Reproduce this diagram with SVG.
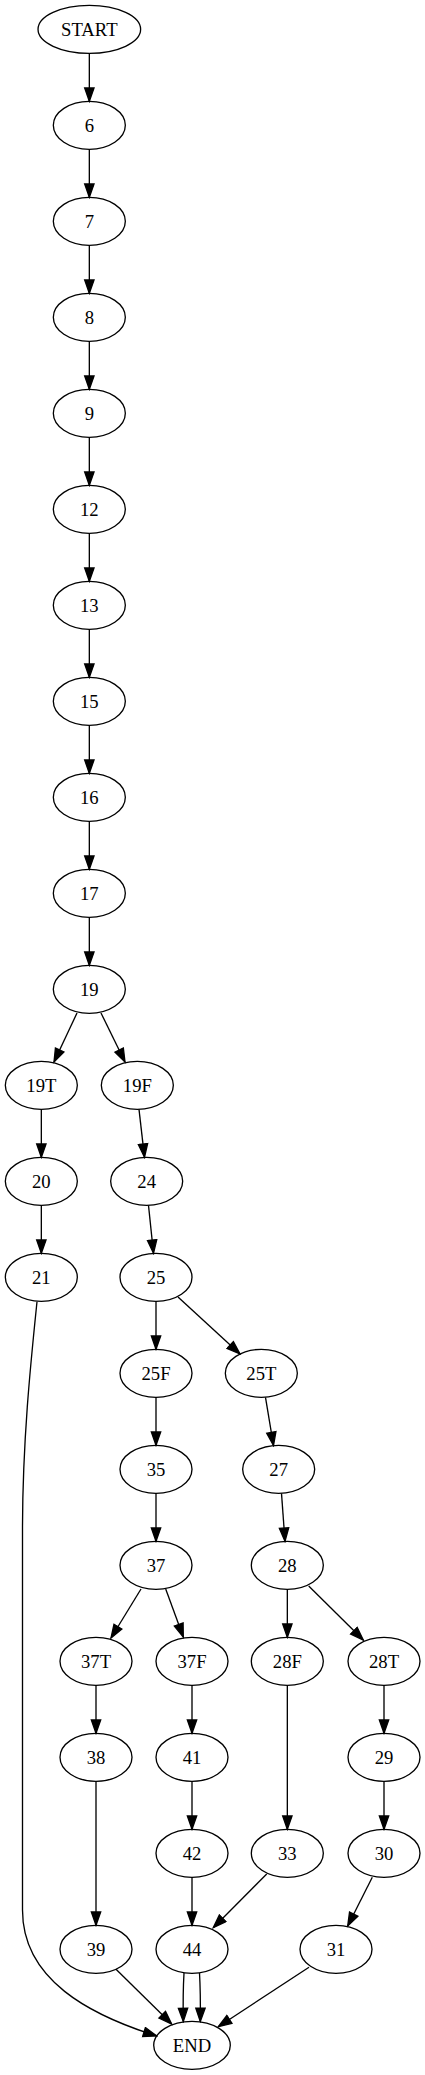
<svg xmlns="http://www.w3.org/2000/svg" width="425" height="2075" viewBox="0 0 425 2075">
<style>
.n ellipse{fill:none;stroke:#000;stroke-width:1.33}
.n text{font-family:"Liberation Serif","Times New Roman",serif;font-size:18.67px;text-anchor:middle;fill:#000}
#edges path{fill:none;stroke:#000;stroke-width:1.33;marker-end:url(#ah)}
</style>
<defs>
<marker id="ah" markerUnits="userSpaceOnUse" viewBox="-1 -1 16 12" markerWidth="16" markerHeight="12" refX="13.3" refY="4.67" orient="auto">
<path d="M0,0 L13.3,4.67 L0,9.33 Z" fill="#000" stroke="#000" stroke-width="1.33"/>
</marker>
</defs>
<rect width="425" height="2075" fill="#fff"/>
<g id="edges">
<path d="M89.33,53.33 V101.33"/>
<path d="M89.33,149.33 V197.33"/>
<path d="M89.33,245.33 V293.33"/>
<path d="M89.33,341.33 V389.33"/>
<path d="M89.33,437.33 V485.33"/>
<path d="M89.33,533.33 V581.33"/>
<path d="M89.33,629.33 V677.33"/>
<path d="M89.33,725.33 V773.33"/>
<path d="M89.33,821.33 V869.33"/>
<path d="M89.33,917.33 V965.33"/>
<path d="M77,1013 L54,1062"/>
<path d="M101,1013 L125,1062"/>
<path d="M41.33,1109.33 V1157.33"/>
<path d="M41.33,1205.33 V1253.33"/>
<path d="M139,1109.33 L144.5,1157.33"/>
<path d="M148.5,1205.33 L153.5,1253.33"/>
<path d="M156,1301.33 V1349.33"/>
<path d="M178,1297 L240,1354"/>
<path d="M156,1397.33 V1445.33"/>
<path d="M156,1493.33 V1541.33"/>
<path d="M265.5,1397.33 L273.5,1445.5"/>
<path d="M281.5,1493.33 L285,1541.33"/>
<path d="M287.33,1589.33 V1637.33"/>
<path d="M308.7,1586 L363.3,1640"/>
<path d="M141,1589 L111,1638"/>
<path d="M165.7,1589 L183.3,1637"/>
<path d="M96,1685.33 V1733.33"/>
<path d="M192,1685.33 V1733.33"/>
<path d="M287.33,1685.33 V1829.33"/>
<path d="M384,1685.33 V1733.33"/>
<path d="M96,1781.33 V1925.33"/>
<path d="M192,1781.33 V1829.33"/>
<path d="M384,1781.33 V1829.33"/>
<path d="M192,1877.33 V1925.33"/>
<path d="M266.7,1874 L213.3,1927.7"/>
<path d="M372.3,1877.3 L347.7,1926"/>
<path d="M116,1969.3 L171.7,2024"/>
<path d="M184,1973 C183,1990 183,2005 183.3,2021.5"/>
<path d="M199.5,1973 C200.5,1990 200.5,2005 200.3,2021.5"/>
<path d="M309,1967.3 L218.3,2026.7"/>
<path d="M37,1301.7 C31,1360 22.5,1440 22.5,1530 L22.5,1910 C22.5,1980 90,2015 156.7,2036"/>
</g>
<g id="n_START" class="n"><ellipse cx="89.33" cy="29.33" rx="51.3" ry="24"/><text x="89.33" y="35.7">START</text></g>
<g id="n_6" class="n"><ellipse cx="89.33" cy="125.33" rx="36" ry="24"/><text x="89.33" y="131.7">6</text></g>
<g id="n_7" class="n"><ellipse cx="89.33" cy="221.33" rx="36" ry="24"/><text x="89.33" y="227.7">7</text></g>
<g id="n_8" class="n"><ellipse cx="89.33" cy="317.33" rx="36" ry="24"/><text x="89.33" y="323.7">8</text></g>
<g id="n_9" class="n"><ellipse cx="89.33" cy="413.33" rx="36" ry="24"/><text x="89.33" y="419.7">9</text></g>
<g id="n_12" class="n"><ellipse cx="89.33" cy="509.33" rx="36" ry="24"/><text x="89.33" y="515.7">12</text></g>
<g id="n_13" class="n"><ellipse cx="89.33" cy="605.33" rx="36" ry="24"/><text x="89.33" y="611.7">13</text></g>
<g id="n_15" class="n"><ellipse cx="89.33" cy="701.33" rx="36" ry="24"/><text x="89.33" y="707.7">15</text></g>
<g id="n_16" class="n"><ellipse cx="89.33" cy="797.33" rx="36" ry="24"/><text x="89.33" y="803.7">16</text></g>
<g id="n_17" class="n"><ellipse cx="89.33" cy="893.33" rx="36" ry="24"/><text x="89.33" y="899.7">17</text></g>
<g id="n_19" class="n"><ellipse cx="89.33" cy="989.33" rx="36" ry="24"/><text x="89.33" y="995.7">19</text></g>
<g id="n_19T" class="n"><ellipse cx="41.33" cy="1085.33" rx="36" ry="24"/><text x="41.33" y="1091.7">19T</text></g>
<g id="n_19F" class="n"><ellipse cx="137.33" cy="1085.33" rx="36" ry="24"/><text x="137.33" y="1091.7">19F</text></g>
<g id="n_20" class="n"><ellipse cx="41.33" cy="1181.33" rx="36" ry="24"/><text x="41.33" y="1187.7">20</text></g>
<g id="n_24" class="n"><ellipse cx="146.67" cy="1181.33" rx="36" ry="24"/><text x="146.67" y="1187.7">24</text></g>
<g id="n_21" class="n"><ellipse cx="41.33" cy="1277.33" rx="36" ry="24"/><text x="41.33" y="1283.7">21</text></g>
<g id="n_25" class="n"><ellipse cx="156" cy="1277.33" rx="36" ry="24"/><text x="156" y="1283.7">25</text></g>
<g id="n_25F" class="n"><ellipse cx="156" cy="1373.33" rx="36" ry="24"/><text x="156" y="1379.7">25F</text></g>
<g id="n_25T" class="n"><ellipse cx="261.33" cy="1373.33" rx="36" ry="24"/><text x="261.33" y="1379.7">25T</text></g>
<g id="n_35" class="n"><ellipse cx="156" cy="1469.33" rx="36" ry="24"/><text x="156" y="1475.7">35</text></g>
<g id="n_27" class="n"><ellipse cx="278.67" cy="1469.33" rx="36" ry="24"/><text x="278.67" y="1475.7">27</text></g>
<g id="n_37" class="n"><ellipse cx="156" cy="1565.33" rx="36" ry="24"/><text x="156" y="1571.7">37</text></g>
<g id="n_28" class="n"><ellipse cx="287.33" cy="1565.33" rx="36" ry="24"/><text x="287.33" y="1571.7">28</text></g>
<g id="n_37T" class="n"><ellipse cx="96" cy="1661.33" rx="36" ry="24"/><text x="96" y="1667.7">37T</text></g>
<g id="n_37F" class="n"><ellipse cx="192" cy="1661.33" rx="36" ry="24"/><text x="192" y="1667.7">37F</text></g>
<g id="n_28F" class="n"><ellipse cx="287.33" cy="1661.33" rx="36" ry="24"/><text x="287.33" y="1667.7">28F</text></g>
<g id="n_28T" class="n"><ellipse cx="384" cy="1661.33" rx="36" ry="24"/><text x="384" y="1667.7">28T</text></g>
<g id="n_38" class="n"><ellipse cx="96" cy="1757.33" rx="36" ry="24"/><text x="96" y="1763.7">38</text></g>
<g id="n_41" class="n"><ellipse cx="192" cy="1757.33" rx="36" ry="24"/><text x="192" y="1763.7">41</text></g>
<g id="n_29" class="n"><ellipse cx="384" cy="1757.33" rx="36" ry="24"/><text x="384" y="1763.7">29</text></g>
<g id="n_42" class="n"><ellipse cx="192" cy="1853.33" rx="36" ry="24"/><text x="192" y="1859.7">42</text></g>
<g id="n_33" class="n"><ellipse cx="287.33" cy="1853.33" rx="36" ry="24"/><text x="287.33" y="1859.7">33</text></g>
<g id="n_30" class="n"><ellipse cx="384" cy="1853.33" rx="36" ry="24"/><text x="384" y="1859.7">30</text></g>
<g id="n_39" class="n"><ellipse cx="96" cy="1949.33" rx="36" ry="24"/><text x="96" y="1955.7">39</text></g>
<g id="n_44" class="n"><ellipse cx="192" cy="1949.33" rx="36" ry="24"/><text x="192" y="1955.7">44</text></g>
<g id="n_31" class="n"><ellipse cx="336" cy="1949.33" rx="36" ry="24"/><text x="336" y="1955.7">31</text></g>
<g id="n_END" class="n"><ellipse cx="192" cy="2045.33" rx="38.3" ry="24"/><text x="192" y="2051.7">END</text></g>
</svg>
